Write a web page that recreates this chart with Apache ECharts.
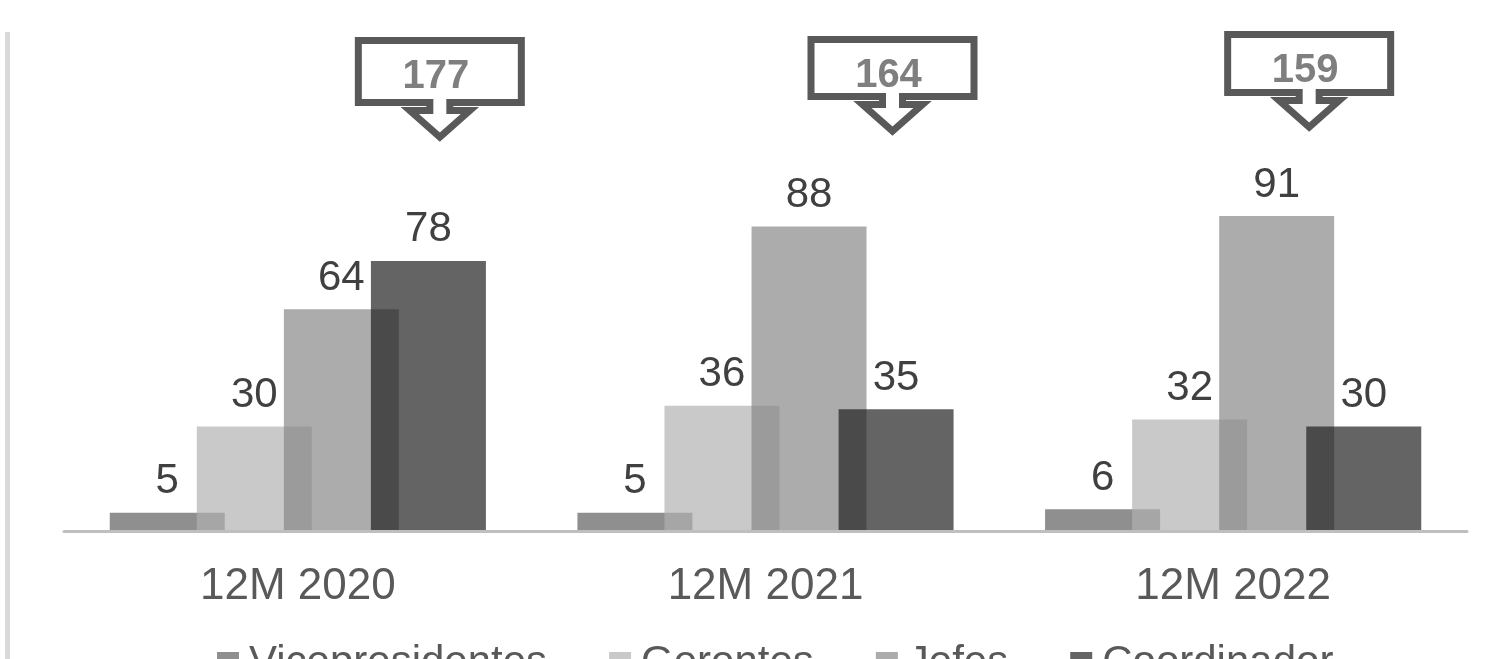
<!DOCTYPE html>
<html>
<head>
<meta charset="utf-8">
<script src="https://cdn.jsdelivr.net/npm/echarts@6/dist/echarts.min.js"></script>
<style>
html,body{margin:0;padding:0;background:#fff;}
#chart{width:1500px;height:659px;}
</style>
</head>
<body>
<div id="chart"></div>
<script>
// ---- data ----
const categories = ['12M 2020', '12M 2021', '12M 2022'];
const seriesNames = ['Vicepresidentes', 'Gerentes', 'Jefes', 'Coordinador'];
const vicepresidentes = [5, 5, 6];
const gerentes = [30, 36, 32];
const jefes = [64, 88, 91];
const coordinador = [78, 35, 30];

// ---- styling / layout (not data) ----
const FONT = '"Liberation Sans", Arial, sans-serif';
const seriesColors = ['rgba(93,93,93,0.69)', 'rgba(177,177,177,0.69)', 'rgba(135,135,135,0.69)', 'rgba(30,30,30,0.69)'];
const calloutLayout = [
  { dx: 142, top: 37, bottom: 106, tip: 142 },
  { dx: 127, top: 36, bottom: 100, tip: 136 },
  { dx: 76,  top: 31, bottom: 96,  tip: 132 }
];

const seriesValues = [vicepresidentes, gerentes, jefes, coordinador];
const totals = categories.map((_, i) => seriesValues.reduce((s, arr) => s + arr[i], 0));

const chart = echarts.init(document.getElementById('chart'));

const barSeries = seriesNames.map((name, k) => ({
  name: name,
  type: 'bar',
  data: seriesValues[k],
  barWidth: 115,
  barGap: '-24.3%',
  itemStyle: { color: seriesColors[k] },
  label: {
    show: true,
    position: 'top',
    distance: 10,
    fontSize: 42,
    fontFamily: FONT,
    color: '#404040'
  }
}));

const calloutSeries = {
  type: 'custom',
  name: 'totales',
  silent: true,
  z: 10,
  clip: false,
  data: totals.map((t, i) => [i, t]),
  encode: { x: 0, y: 1 },
  renderItem: function (params, api) {
    const idx = api.value(0);
    const L = calloutLayout[idx];
    const cx = api.coord([idx, 0])[0] + L.dx;
    const sw = 7, h = sw / 2;
    const left = cx - 85 + h, right = cx + 85 - h;
    const top = L.top + h, bot = L.bottom - h;
    const pts = [
      [left, top], [right, top], [right, bot],
      [cx + 10, bot], [cx + 10, bot + 8], [cx + 30, bot + 8],
      [cx, L.tip - 5],
      [cx - 30, bot + 8], [cx - 10, bot + 8], [cx - 10, bot],
      [left, bot]
    ];
    return {
      type: 'group',
      children: [
        {
          type: 'polygon',
          shape: { points: pts },
          style: { fill: '#ffffff', stroke: '#595959', lineWidth: sw, lineJoin: 'miter' }
        },
        {
          type: 'text',
          style: {
            text: String(api.value(1)),
            x: cx - 4,
            y: L.top + 40,
            align: 'center',
            verticalAlign: 'middle',
            fontSize: 40,
            fontWeight: 'bold',
            fontFamily: FONT,
            fill: '#7f7f7f'
          }
        }
      ]
    };
  }
};

const option = {
  animation: false,
  backgroundColor: '#ffffff',
  textStyle: { fontFamily: FONT },
  graphic: [
    { type: 'rect', shape: { x: 5, y: 32, width: 5, height: 627 }, style: { fill: '#d9d9d9' }, silent: true }
  ],
  legend: {
    data: seriesNames,
    left: 217,
    top: 642,
    padding: 0,
    itemWidth: 22,
    itemHeight: 22,
    itemGap: 62,
    icon: 'rect',
    textStyle: { fontSize: 42, color: '#595959', fontFamily: FONT, padding: [0, 0, 0, 5] }
  },
  grid: { left: 64, right: 33, top: 185, bottom: 129, containLabel: false },
  xAxis: {
    type: 'category',
    data: categories,
    offset: 1.5,
    axisLine: { onZero: false, lineStyle: { color: '#bfbfbf', width: 3 } },
    axisTick: { show: false },
    axisLabel: { fontSize: 44, color: '#595959', fontFamily: FONT, margin: 33 }
  },
  yAxis: {
    type: 'value',
    min: 0,
    max: 100,
    show: false,
    splitLine: { show: false }
  },
  series: barSeries.concat([calloutSeries])
};

chart.setOption(option);
</script>
</body>
</html>
